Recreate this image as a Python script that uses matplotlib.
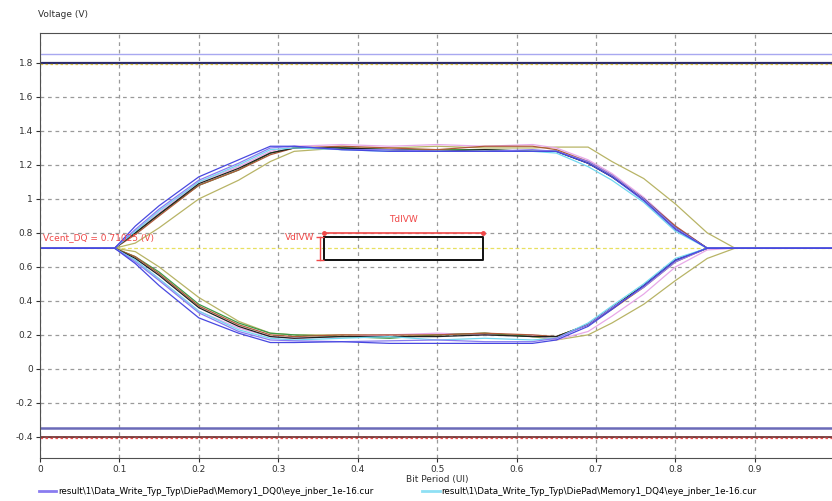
import matplotlib.pyplot as plt
from matplotlib.lines import Line2D

plt.rcParams['font.family'] = ['Liberation Sans Narrow', 'DejaVu Sans']

# bit period knots (UI) shared by every eye trace
ui = [0.0, 0.094, 0.12, 0.15, 0.2, 0.25, 0.29, 0.32, 0.38, 0.44, 0.5, 0.56,
      0.62, 0.65, 0.69, 0.72, 0.76, 0.8, 0.84, 0.875, 1.0]

# (colour, upper edge, lower edge) for each DQ trace
blue_up = [0.71, 0.71, 0.84, 0.96, 1.13, 1.23, 1.31, 1.31, 1.29, 1.28, 1.28, 1.28, 1.28, 1.28, 1.21, 1.13, 0.99, 0.82, 0.71, 0.71, 0.71]
blue_lo = [0.71, 0.71, 0.62, 0.49, 0.30, 0.21, 0.155, 0.155, 0.16, 0.15, 0.15, 0.15, 0.15, 0.17, 0.25, 0.35, 0.49, 0.64, 0.71, 0.71, 0.71]
purple_up = [0.71, 0.71, 0.82, 0.94, 1.11, 1.21, 1.30, 1.31, 1.29, 1.29, 1.28, 1.28, 1.29, 1.28, 1.22, 1.14, 1.00, 0.83, 0.71, 0.71, 0.71]
purple_lo = [0.71, 0.71, 0.63, 0.52, 0.33, 0.22, 0.17, 0.165, 0.16, 0.165, 0.17, 0.16, 0.16, 0.18, 0.26, 0.36, 0.48, 0.63, 0.71, 0.71, 0.71]
cyan_up = [0.71, 0.71, 0.81, 0.93, 1.10, 1.20, 1.29, 1.30, 1.29, 1.28, 1.28, 1.28, 1.28, 1.27, 1.19, 1.11, 0.98, 0.81, 0.71, 0.71, 0.71]
cyan_lo = [0.71, 0.71, 0.64, 0.53, 0.34, 0.23, 0.18, 0.17, 0.18, 0.19, 0.17, 0.18, 0.17, 0.18, 0.27, 0.37, 0.50, 0.65, 0.71, 0.71, 0.71]
black_up = [0.71, 0.71, 0.80, 0.91, 1.09, 1.18, 1.27, 1.30, 1.30, 1.29, 1.28, 1.29, 1.28, 1.28, 1.21, 1.13, 1.00, 0.83, 0.71, 0.71, 0.71]
black_lo = [0.71, 0.71, 0.65, 0.55, 0.36, 0.25, 0.19, 0.18, 0.19, 0.19, 0.19, 0.20, 0.19, 0.19, 0.26, 0.36, 0.49, 0.64, 0.71, 0.71, 0.71]
brown_up = [0.71, 0.71, 0.79, 0.90, 1.08, 1.17, 1.26, 1.30, 1.31, 1.30, 1.29, 1.31, 1.31, 1.29, 1.22, 1.14, 1.00, 0.84, 0.71, 0.71, 0.71]
brown_lo = [0.71, 0.71, 0.66, 0.56, 0.37, 0.26, 0.20, 0.19, 0.20, 0.20, 0.20, 0.21, 0.20, 0.19, 0.26, 0.35, 0.48, 0.63, 0.71, 0.71, 0.71]
green_up = [0.71, 0.71, 0.80, 0.91, 1.08, 1.17, 1.27, 1.30, 1.30, 1.29, 1.29, 1.29, 1.28, 1.28, 1.21, 1.13, 1.00, 0.83, 0.71, 0.71, 0.71]
green_lo = [0.71, 0.71, 0.66, 0.57, 0.38, 0.27, 0.21, 0.20, 0.19, 0.18, 0.20, 0.21, 0.19, 0.19, 0.26, 0.36, 0.49, 0.64, 0.71, 0.71, 0.71]
pink_up = [0.71, 0.71, 0.81, 0.92, 1.10, 1.19, 1.28, 1.31, 1.32, 1.31, 1.32, 1.31, 1.32, 1.30, 1.23, 1.15, 1.01, 0.84, 0.71, 0.71, 0.71]
pink_lo = [0.71, 0.71, 0.64, 0.53, 0.34, 0.24, 0.19, 0.18, 0.19, 0.20, 0.21, 0.20, 0.20, 0.17, 0.22, 0.31, 0.44, 0.60, 0.70, 0.71, 0.71]
olive_up = [0.71, 0.71, 0.74, 0.83, 1.00, 1.11, 1.22, 1.28, 1.30, 1.30, 1.31, 1.30, 1.30, 1.305, 1.305, 1.22, 1.12, 0.97, 0.80, 0.71, 0.71]
olive_lo = [0.71, 0.71, 0.69, 0.60, 0.42, 0.28, 0.21, 0.20, 0.20, 0.19, 0.20, 0.21, 0.19, 0.17, 0.20, 0.27, 0.38, 0.52, 0.65, 0.71, 0.71]

traces = [
    ('#b8b466', olive_up, olive_lo),
    ('#e8a8e8', pink_up, pink_lo),
    ('#3c9a46', green_up, green_lo),
    ('#b05a3a', brown_up, brown_lo),
    ('#202020', black_up, black_lo),
    ('#70d8f0', cyan_up, cyan_lo),
    ('#8a7cf0', purple_up, purple_lo),
    ('#4848e0', blue_up, blue_lo),
]

vcent = 0.71025
vdivw = (0.64, 0.776)
tdivw = (0.358, 0.558)
rail_hi = [1.855, 1.8]
rail_lo = [-0.35, -0.4]

legend_labels = [r'result\1\Data_Write_Typ_Typ\DiePad\Memory1_DQ0\eye_jnber_1e-16.cur',
                 r'result\1\Data_Write_Typ_Typ\DiePad\Memory1_DQ4\eye_jnber_1e-16.cur']
legend_colors = ['#8a7cf0', '#8fe0f4']

fig = plt.figure(figsize=(8.32, 5.01), dpi=100)
ax = fig.add_axes([0.048, 0.086, 0.952, 0.848])

# supply rails
ax.axhline(rail_hi[0], color='#a8a8f0', lw=1.0)
ax.axhline(rail_hi[1], color='#2a2a6a', lw=1.6)
ax.axhline(rail_hi[1] - 0.006, color='#d8c040', lw=0.9, ls=(0, (2, 2)))
ax.axhline(rail_lo[0], color='#6a6ab8', lw=1.8)
ax.axhline(rail_lo[1], color='#702828', lw=1.2)
ax.axhline(rail_lo[1] - 0.006, color='#f05050', lw=0.9, ls=(0, (2, 2)))

# centre voltage reference
ax.axhline(vcent, color='#e8e060', lw=0.9, ls=(0, (3, 2)))

for col, up, lo in traces:
    ax.plot(ui, up, color=col, lw=0.9)
    ax.plot(ui, lo, color=col, lw=0.9)

# eye mask
ax.plot([tdivw[0], tdivw[1], tdivw[1], tdivw[0], tdivw[0]],
        [vdivw[1], vdivw[1], vdivw[0], vdivw[0], vdivw[1]], color='#101010', lw=1.4)
ax.plot(tdivw, [0.8, 0.8], color='#f04848', lw=1.2, marker='o', ms=2.5)
ax.plot([0.353, 0.353], vdivw, color='#f04848', lw=1.0, marker='_', ms=6)
ax.text(sum(tdivw) / 2, 0.85, 'TdIVW', color='#f04848', fontsize=6.5, ha='center', va='bottom')
ax.text(0.346, 0.775, 'VdIVW', color='#f04848', fontsize=6.5, ha='right', va='center')
ax.text(0.004, 0.775, 'Vcent_DQ = 0.71025 (V)', color='#f04848', fontsize=6.5, ha='left', va='center')

ax.set_xlim(0, 0.997)
ax.set_ylim(-0.524, 1.976)
xt = [0, 0.1, 0.2, 0.3, 0.4, 0.5, 0.6, 0.7, 0.8, 0.9]
yt = [-0.4, -0.2, 0, 0.2, 0.4, 0.6, 0.8, 1, 1.2, 1.4, 1.6, 1.8]
ax.set_xticks(xt)
ax.set_xticklabels(['%g' % v for v in xt])
ax.set_yticks(yt)
ax.set_yticklabels(['%g' % v for v in yt])
ax.tick_params(labelsize=6.5, colors='#303030', length=3, width=0.8, pad=2)
ax.grid(True, color='#9a9a9a', lw=0.9, ls=(0, (3, 3)))
ax.set_axisbelow(True)
ax.spines['right'].set_visible(False)
for s in ['top', 'left', 'bottom']:
    ax.spines[s].set_color('#505050')

fig.text(0.046, 0.972, 'Voltage (V)', fontsize=6.5, color='#303030', ha='left', va='center')
fig.text(0.525, 0.042, 'Bit Period (UI)', fontsize=6.5, color='#303030', ha='center', va='center')

proxies = [Line2D([], [], color=c, lw=2.0) for c in legend_colors]
fig.legend(proxies, legend_labels,
           loc='center left', bbox_to_anchor=(0.037, 0.018), ncol=2, frameon=False,
           fontsize=6.3, handlelength=2.0, handletextpad=0.2, columnspacing=5.6)

fig.savefig('out.png', dpi=100)
